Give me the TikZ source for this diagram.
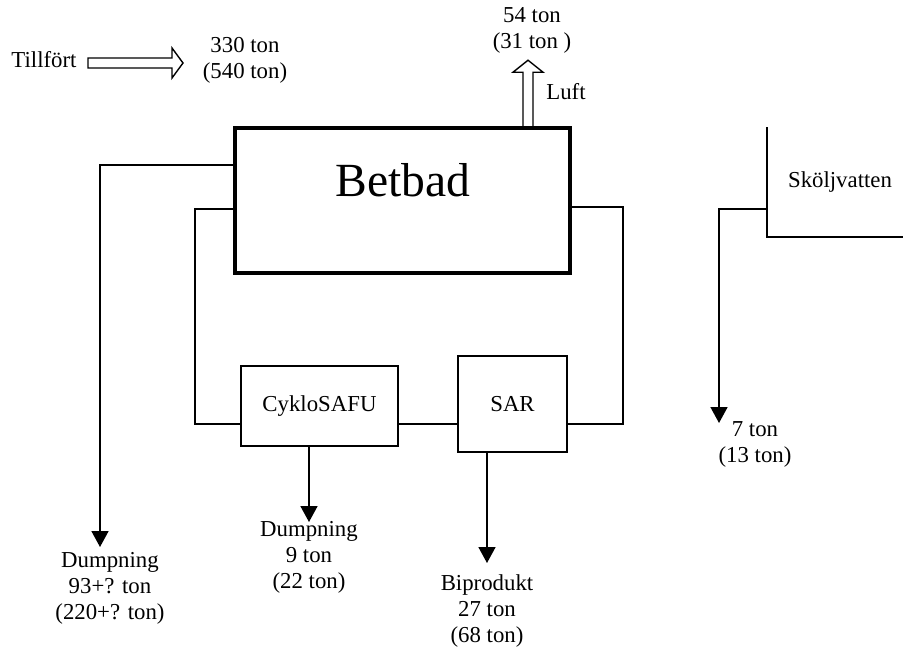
\documentclass[tikz,border=0pt]{standalone}
\usepackage{fontspec}
\setmainfont{Liberation Serif}
\usetikzlibrary{arrows.meta, positioning}
\tikzstyle{tank} = [rectangle, draw=black, line width=1.8pt, minimum width=167.5pt, minimum height=72.5pt, inner sep=0pt]
\tikzstyle{procbox} = [rectangle, draw=black, line width=0.8pt, inner sep=0pt, text centered]
\tikzstyle{txt} = [inner sep=0pt, align=center, font=\fontsize{11.4}{13}\selectfont]
\tikzstyle{pipe} = [line width=0.8pt]
\tikzstyle{arrow} = [line width=0.8pt, -{Triangle[width=8.5pt,length=8pt]}]
\tikzstyle{hollow} = [line width=0.7pt, draw=black]

\begin{document}
\begin{tikzpicture}[x=0.5pt, y=-0.5pt]
\useasboundingbox (0,0) rectangle (903,654);

% units
\node (betbad) [tank] at (402.5,200.5) {};
\node (betbadname) [inner sep=0pt, font=\fontsize{23.8}{28}\selectfont] at (403,180) {Betbad};
\node (cyklo) [procbox, minimum width=78.5pt, minimum height=40pt, txt] at (319.5,406) {CykloSAFU};
\node (sar) [procbox, minimum width=54.5pt, minimum height=48pt, txt] at (512.5,404) {SAR};

% in and out
\node (tillfort) [txt] at (44,60) {Tillfört};
\node (inflow) [txt] at (245,60) {330 ton\\(540 ton)};
\coordinate (feed) at (88,63);
\draw [hollow] (feed) ++(0,-5) -- ++(84,0) -- ++(0,-10) -- ++(11,15) -- ++(-11,15) -- ++(0,-10) -- ++(-84,0) -- cycle;

\node (luft) [txt] at (566,92) {Luft};
\node (outair) [txt] at (532,30.5) {54 ton\\(31 ton )};
\coordinate (vent) at (528,126.2);
\draw [hollow] (vent) ++(-5,0) -- ++(0,-54) -- ++(-10,0) -- ++(15,-12) -- ++(15,12) -- ++(-10,0) -- ++(0,54);

% dumping and byproduct
\coordinate (dumpA) at (100,547);
\coordinate (dumpB) at (309,522);
\coordinate (biprod) at (487,563);
\node (dumpAtxt) [txt] at (110,588) {Dumpning\\93+? ton\\(220+? ton)};
\node (dumpBtxt) [txt] at (309,557) {Dumpning\\9 ton\\(22 ton)};
\node (biprodtxt) [txt] at (487,611) {Biprodukt\\27 ton\\(68 ton)};

\draw [arrow] (betbad.west |- 0,165) -| (dumpA);
\draw [arrow] (cyklo.south -| dumpB) -- (dumpB);
\draw [arrow] (sar.south -| biprod) -- (biprod);

% circulation loop
\draw [pipe] (betbad.west |- 0,209) -- ++(-38,0) |- (cyklo.west |- 0,424);
\draw [pipe] (cyklo.east |- 0,424) -- (sar.west |- 0,424);
\draw [pipe] (sar.east |- 0,424) -- ++(55,0) |- (betbad.east |- 0,207);

% rinse water
\coordinate (rinsetop) at (767,127);
\coordinate (rinsecorner) at (767,237);
\coordinate (rinseend) at (903,237);
\coordinate (rinseout) at (719,423);
\draw [pipe] (rinsetop) -- (rinsecorner) -- (rinseend);
\node (skolj) [txt] at (840,182) {Sköljvatten};
\draw [arrow] (767,209) -| (rinseout);
\node (rinsetxt) [txt] at (755,444.5) {7 ton\\(13 ton)};
\end{tikzpicture}
\end{document}
